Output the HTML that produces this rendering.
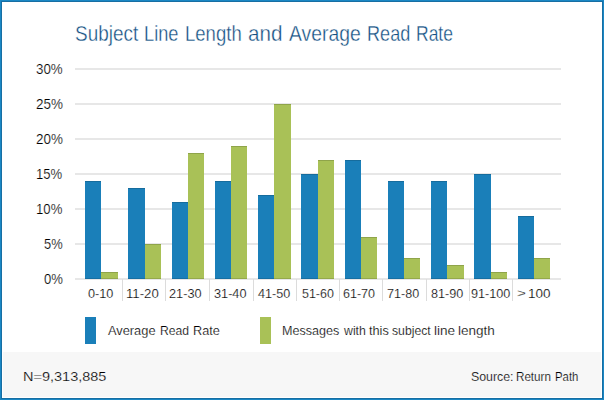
<!DOCTYPE html>
<html><head><meta charset="utf-8">
<style>
html,body{margin:0;padding:0;}
body{width:604px;height:400px;position:relative;overflow:hidden;background:#fff;font-family:"Liberation Sans",sans-serif;color:#000000;}
.frame{position:absolute;left:0;top:0;width:602px;height:398px;border:1px solid #1a87c4;box-shadow:inset 0 0 0 1px #176ea3;}
.foot{position:absolute;left:3px;top:352px;width:598px;height:45px;background:#f7f7f7;}
.g{position:absolute;left:75px;width:486px;height:2px;background:#e7e7e7;}
.sep{position:absolute;top:279px;width:1px;height:22px;background:#dcdcdc;}
.bar{position:absolute;width:16.25px;box-shadow:inset 0 1px 0 rgba(0,0,0,0.15),inset 0 -1px 0 rgba(0,0,0,0.12);}
.lg{position:absolute;top:317px;width:11px;height:27px;}
.t{position:absolute;line-height:40px;white-space:nowrap;transform-origin:0 0;}
</style></head><body>
<div class="frame"></div>
<div class="foot"></div>
<div class="g" style="top:278px"></div>
<div class="g" style="top:243px"></div>
<div class="g" style="top:208px"></div>
<div class="g" style="top:173px"></div>
<div class="g" style="top:138px"></div>
<div class="g" style="top:103px"></div>
<div class="g" style="top:68px"></div>
<div class="sep" style="left:122px"></div>
<div class="sep" style="left:165px"></div>
<div class="sep" style="left:209px"></div>
<div class="sep" style="left:252.5px"></div>
<div class="sep" style="left:296px"></div>
<div class="sep" style="left:339px"></div>
<div class="sep" style="left:382px"></div>
<div class="sep" style="left:426px"></div>
<div class="sep" style="left:469px"></div>
<div class="sep" style="left:512px"></div>
<div class="bar" style="left:85.00px;top:181.0px;height:98.0px;background:#1a7fb9"></div>
<div class="bar" style="left:101.25px;top:272.0px;height:7.0px;background:#a9c157"></div>
<div class="bar" style="left:128.25px;top:188.0px;height:91.0px;background:#1a7fb9"></div>
<div class="bar" style="left:144.50px;top:244.0px;height:35.0px;background:#a9c157"></div>
<div class="bar" style="left:171.50px;top:202.0px;height:77.0px;background:#1a7fb9"></div>
<div class="bar" style="left:187.75px;top:153.0px;height:126.0px;background:#a9c157"></div>
<div class="bar" style="left:214.75px;top:181.0px;height:98.0px;background:#1a7fb9"></div>
<div class="bar" style="left:231.00px;top:146.0px;height:133.0px;background:#a9c157"></div>
<div class="bar" style="left:258.00px;top:195.0px;height:84.0px;background:#1a7fb9"></div>
<div class="bar" style="left:274.25px;top:104.0px;height:175.0px;background:#a9c157"></div>
<div class="bar" style="left:301.25px;top:174.0px;height:105.0px;background:#1a7fb9"></div>
<div class="bar" style="left:317.50px;top:160.0px;height:119.0px;background:#a9c157"></div>
<div class="bar" style="left:344.50px;top:160.0px;height:119.0px;background:#1a7fb9"></div>
<div class="bar" style="left:360.75px;top:237.0px;height:42.0px;background:#a9c157"></div>
<div class="bar" style="left:387.75px;top:181.0px;height:98.0px;background:#1a7fb9"></div>
<div class="bar" style="left:404.00px;top:258.0px;height:21.0px;background:#a9c157"></div>
<div class="bar" style="left:431.00px;top:181.0px;height:98.0px;background:#1a7fb9"></div>
<div class="bar" style="left:447.25px;top:265.0px;height:14.0px;background:#a9c157"></div>
<div class="bar" style="left:474.25px;top:174.0px;height:105.0px;background:#1a7fb9"></div>
<div class="bar" style="left:490.50px;top:272.0px;height:7.0px;background:#a9c157"></div>
<div class="bar" style="left:517.50px;top:216.0px;height:63.0px;background:#1a7fb9"></div>
<div class="bar" style="left:533.75px;top:258.0px;height:21.0px;background:#a9c157"></div>
<div class="lg" style="left:85px;background:#1a7fb9"></div>
<div class="lg" style="left:260px;background:#a9c157"></div>
<span class="t" style="left:74.92px;top:14px;font-size:21.5px;color:#134f82;transform:scaleX(0.8809);-webkit-text-stroke:0.35px #fff">Subject</span>
<span class="t" style="left:144.32px;top:14px;font-size:21.5px;color:#134f82;transform:scaleX(0.8474);-webkit-text-stroke:0.35px #fff">Line</span>
<span class="t" style="left:184.99px;top:14px;font-size:21.5px;color:#134f82;transform:scaleX(0.8624);-webkit-text-stroke:0.35px #fff">Length</span>
<span class="t" style="left:248.44px;top:14px;font-size:21.5px;color:#134f82;transform:scaleX(0.9612);-webkit-text-stroke:0.35px #fff">and</span>
<span class="t" style="left:288.50px;top:14px;font-size:21.5px;color:#134f82;transform:scaleX(0.8990);-webkit-text-stroke:0.35px #fff">Average</span>
<span class="t" style="left:366.73px;top:14px;font-size:21.5px;color:#134f82;transform:scaleX(0.8415);-webkit-text-stroke:0.35px #fff">Read</span>
<span class="t" style="left:416.48px;top:14px;font-size:21.5px;color:#134f82;transform:scaleX(0.8140);-webkit-text-stroke:0.35px #fff">Rate</span>
<span class="t" style="left:108.00px;top:311px;font-size:13.5px;color:#000000;transform:scaleX(0.9495);-webkit-text-stroke:0.2px #fff">Average</span>
<span class="t" style="left:160.30px;top:311px;font-size:13.5px;color:#000000;transform:scaleX(0.8992);-webkit-text-stroke:0.2px #fff">Read</span>
<span class="t" style="left:192.86px;top:311px;font-size:13.5px;color:#000000;transform:scaleX(0.9407);-webkit-text-stroke:0.2px #fff">Rate</span>
<span class="t" style="left:282.37px;top:311px;font-size:13.5px;color:#000000;transform:scaleX(0.9317);-webkit-text-stroke:0.2px #fff">Messages</span>
<span class="t" style="left:343.80px;top:311px;font-size:13.5px;color:#000000;transform:scaleX(0.9118);-webkit-text-stroke:0.2px #fff">with</span>
<span class="t" style="left:369.06px;top:311px;font-size:13.5px;color:#000000;transform:scaleX(0.9432);-webkit-text-stroke:0.2px #fff">this</span>
<span class="t" style="left:391.85px;top:311px;font-size:13.5px;color:#000000;transform:scaleX(0.9041);-webkit-text-stroke:0.2px #fff">subject</span>
<span class="t" style="left:433.99px;top:311px;font-size:13.5px;color:#000000;transform:scaleX(1.0051);-webkit-text-stroke:0.2px #fff">line</span>
<span class="t" style="left:457.80px;top:311px;font-size:13.5px;color:#000000;transform:scaleX(1.0029);-webkit-text-stroke:0.2px #fff">length</span>
<span class="t" style="left:23.43px;top:357px;font-size:13.5px;color:#000000;transform:scaleX(1.0737);-webkit-text-stroke:0.2px #f7f7f7">N=9,313,885</span>
<span class="t" style="left:471.31px;top:357px;font-size:13.5px;color:#000000;transform:scaleX(0.9146);-webkit-text-stroke:0.2px #f7f7f7">Source:</span>
<span class="t" style="left:516.14px;top:357px;font-size:13.5px;color:#000000;transform:scaleX(0.8619);-webkit-text-stroke:0.2px #f7f7f7">Return</span>
<span class="t" style="left:554.56px;top:357px;font-size:13.5px;color:#000000;transform:scaleX(0.8423);-webkit-text-stroke:0.2px #f7f7f7">Path</span>
<span class="t" style="left:35.82px;top:49px;font-size:14px;color:#000000;transform:scaleX(0.9519);-webkit-text-stroke:0.2px #fff">30%</span>
<span class="t" style="left:35.58px;top:84px;font-size:14px;color:#000000;transform:scaleX(0.9607);-webkit-text-stroke:0.2px #fff">25%</span>
<span class="t" style="left:35.53px;top:119px;font-size:14px;color:#000000;transform:scaleX(0.9589);-webkit-text-stroke:0.2px #fff">20%</span>
<span class="t" style="left:36.16px;top:154px;font-size:14px;color:#000000;transform:scaleX(0.9358);-webkit-text-stroke:0.2px #fff">15%</span>
<span class="t" style="left:36.16px;top:189px;font-size:14px;color:#000000;transform:scaleX(0.9396);-webkit-text-stroke:0.2px #fff">10%</span>
<span class="t" style="left:43.71px;top:224px;font-size:14px;color:#000000;transform:scaleX(0.9211);-webkit-text-stroke:0.2px #fff">5%</span>
<span class="t" style="left:43.53px;top:259px;font-size:14px;color:#000000;transform:scaleX(0.9351);-webkit-text-stroke:0.2px #fff">0%</span>
<span class="t" style="left:88.49px;top:274px;font-size:12.5px;color:#000000;transform:scaleX(1.0167);-webkit-text-stroke:0.2px #fff">0-10</span>
<span class="t" style="left:125.55px;top:274px;font-size:12.5px;color:#000000;transform:scaleX(1.0542);-webkit-text-stroke:0.2px #fff">11-20</span>
<span class="t" style="left:169.44px;top:274px;font-size:12.5px;color:#000000;transform:scaleX(1.0179);-webkit-text-stroke:0.2px #fff">21-30</span>
<span class="t" style="left:213.59px;top:274px;font-size:12.5px;color:#000000;transform:scaleX(1.0161);-webkit-text-stroke:0.2px #fff">31-40</span>
<span class="t" style="left:258.05px;top:274px;font-size:12.5px;color:#000000;transform:scaleX(1.0080);-webkit-text-stroke:0.2px #fff">41-50</span>
<span class="t" style="left:302.00px;top:274px;font-size:12.5px;color:#000000;transform:scaleX(0.9968);-webkit-text-stroke:0.2px #fff">51-60</span>
<span class="t" style="left:342.55px;top:274px;font-size:12.5px;color:#000000;transform:scaleX(1.0016);-webkit-text-stroke:0.2px #fff">61-70</span>
<span class="t" style="left:386.75px;top:274px;font-size:12.5px;color:#000000;transform:scaleX(1.0049);-webkit-text-stroke:0.2px #fff">71-80</span>
<span class="t" style="left:430.50px;top:274px;font-size:12.5px;color:#000000;transform:scaleX(1.0097);-webkit-text-stroke:0.2px #fff">81-90</span>
<span class="t" style="left:470.79px;top:274px;font-size:12.5px;color:#000000;transform:scaleX(1.0105);-webkit-text-stroke:0.2px #fff">91-100</span>
<span class="t" style="left:527.82px;top:274px;font-size:12.5px;color:#000000;transform:scaleX(1.0805);-webkit-text-stroke:0.2px #fff">100</span>
<span class="t" style="left:516.91px;top:273px;font-size:11px;color:#000000;transform:scaleX(1.3818);-webkit-text-stroke:0.2px #fff">&gt;</span>
</body></html>
